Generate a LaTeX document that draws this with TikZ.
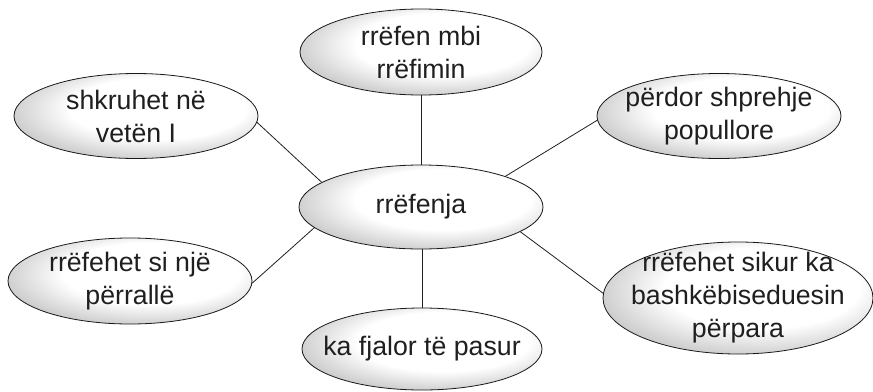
\documentclass[tikz,border=0pt]{standalone}
\usepackage{fontspec}
\setmainfont{Liberation Sans}
\usetikzlibrary{shapes.geometric}
\pgfdeclareradialshading{ellshade}{\pgfpoint{6bp}{6bp}}{color(0bp)=(white); color(18bp)=(white); color(54bp)=(black!62); color(70bp)=(black!66)}
\begin{document}
\begin{tikzpicture}[x=1pt,y=-1pt,
  bub/.style={ellipse, draw=black!90, line width=0.8pt, shading=ellshade, inner sep=0pt},
  txt/.style={inner sep=0pt, align=center, font=\fontsize{26.7}{33}\selectfont, text=black!88},
  link/.style={draw=black!88, line width=0.8pt}]
\useasboundingbox (0,0) rectangle (873,391);
\node[bub, minimum width=242, minimum height=86] (top) at (421,52) {};
\node[txt] (topt) at (top) {rrëfen mbi\\rrëfimin};
\node[bub, minimum width=244, minimum height=85] (lt) at (136,116) {};
\node[txt] (ltt) at (lt) {shkruhet në\\vetën I};
\node[bub, minimum width=244, minimum height=85] (rt) at (719,116) {};
\node[txt] (rtt) at (rt) {përdor shprehje\\popullore};
\node[bub, minimum width=244, minimum height=84] (c) at (421,207) {};
\node[txt] (ct) at (c) {rrëfenja};
\node[bub, minimum width=244, minimum height=86] (lb) at (130,281) {};
\node[txt] (lbt) at (lb) {rrëfehet si një\\përrallë};
\node[bub, minimum width=240, minimum height=82] (b) at (422,349) {};
\node[txt] (bt) at (b) {ka fjalor të pasur};
\node[bub, minimum width=270, minimum height=112] (rb) at (738,298) {};
\node[txt] (rbt) at (rb) {rrëfehet sikur ka\\bashkëbiseduesin\\përpara};
\draw[link] (top.south) -- (top.south |- c.north);
\draw[link] (lt.-3) -- (c.166);
\draw[link] (rt.182) -- (c.20);
\draw[link] (lb.-1) -- (c.191);
\draw[link] (b.north) -- (b.north |- c.south);
\draw[link] (rb.178) -- (c.-14);
\end{tikzpicture}
\end{document}
